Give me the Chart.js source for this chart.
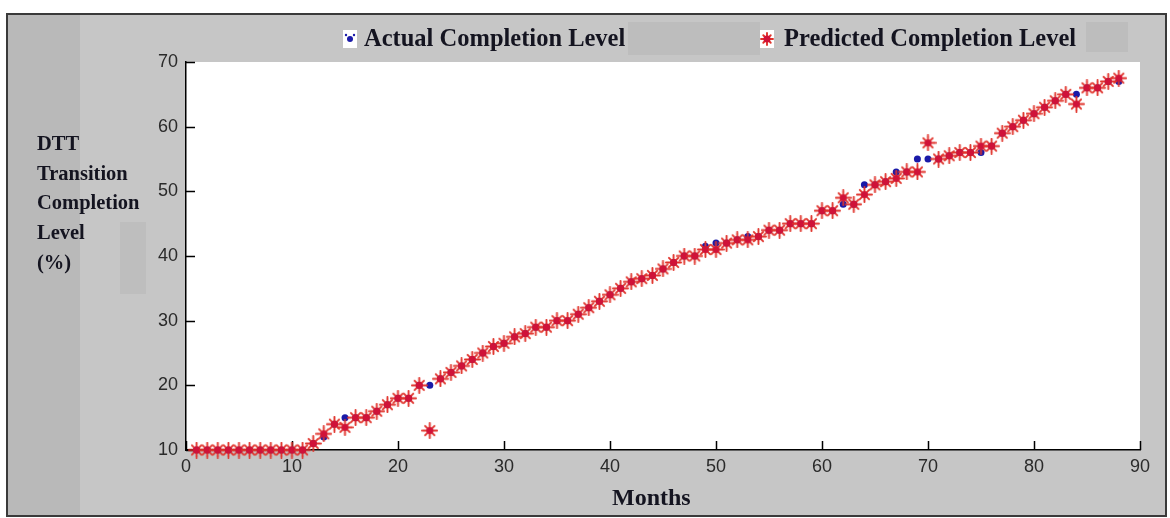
<!DOCTYPE html>
<html>
<head>
<meta charset="utf-8">
<script src="https://cdn.jsdelivr.net/npm/chart.js@4.4.1/dist/chart.umd.min.js"></script>
<style>
  html, body { margin: 0; padding: 0; background: #ffffff; }
  #wrap { position: relative; width: 1170px; height: 518px; overflow: hidden; }
  #frame { position: absolute; left: 6px; top: 13px; width: 1157px; height: 500px;
           background: #c6c6c6; border: 2px solid #3a3a3a; }
  #strip { position: absolute; left: 8px; top: 15px; width: 72px; height: 500px; background: #b9b9b9; }
  .patch { position: absolute; background: #bdbdbd; }
  canvas#c { position: absolute; left: 0; top: 0; }
  .serif { font-family: "Liberation Serif", "DejaVu Serif", serif; font-weight: bold; color: #141420; }
  #ytitle { position: absolute; left: 37px; top: 129px; font-size: 20.5px; line-height: 29.7px; }
  #xtitle { position: absolute; left: 612px; top: 484px; font-size: 24px; }
  .leg { position: absolute; top: 24px; font-size: 24.5px; white-space: nowrap; }
  .legmark { position: absolute; top: 30px; width: 14px; height: 18px; background: #ffffff; }
</style>
</head>
<body>
<div id="wrap">
  <div id="frame"></div>
  <div id="strip"></div>
  <div class="patch" style="left:628px;top:22px;width:132px;height:33px;"></div>
  <div class="patch" style="left:1086px;top:22px;width:42px;height:30px;"></div>
  <div class="patch" style="left:120px;top:222px;width:26px;height:72px;background:#bebebe;"></div>
  <canvas id="c" width="1170" height="518"></canvas>
  <div id="ytitle" class="serif">DTT<br>Transition<br>Completion<br>Level<br>(%)</div>
  <div id="xtitle" class="serif">Months</div>
  <canvas class="legmark" id="lm1" width="14" height="18" style="left:343px;"></canvas>
  <div class="leg serif" style="left:364px;">Actual Completion Level</div>
  <canvas class="legmark" id="lm2" width="14" height="18" style="left:760px;"></canvas>
  <div class="leg serif" style="left:784px;">Predicted Completion Level</div>
</div>
<script>
// ---- data ----
const months = [1,2,3,4,5,6,7,8,9,10,11,12,13,14,15,16,17,18,19,20,21,22,23,24,25,26,27,28,29,30,
  31,32,33,34,35,36,37,38,39,40,41,42,43,44,45,46,47,48,49,50,51,52,53,54,55,56,57,58,59,60,
  61,62,63,64,65,66,67,68,69,70,71,72,73,74,75,76,77,78,79,80,81,82,83,84,85,86,87,88];
const actual = [10,10,10,10,10,10,10,10,10,10,10,11,12,14,15,15,15,16,17,18,18,20,20,21,22,23,24,25,26,26.5,
  27.5,28,29,29,30,30,31,32,33,34,35,36,36.5,37,38,39,40,40,41.5,42,42,42.5,43,43,44,44,45,45,45,47,
  47,48,48,51,51,51.5,53,53,55,55,55,55.5,56,56,56,57,59,60,61,62,63,64,65,65,66,66,67,67];
const predicted = [10,10,10,10,10,10,10,10,10,10,10,11,12.5,14,13.5,15,15,16,17,18,18,20,13,21,22,23,24,25,26,26.5,
  27.5,28,29,29,30,30,31,32,33,34,35,36,36.5,37,38,39,40,40,41,41,42,42.5,42.5,43,44,44,45,45,45,47,
  47,49,48,49.5,51,51.5,52,53,53,57.5,55,55.5,56,56,57,57,59,60,61,62,63,64,65,63.5,66,66,67,67.5];
const xTicks = [0,10,20,30,40,50,60,70,80,90];
const yTicks = [10,20,30,40,50,60,70];
const seriesNames = ["Actual Completion Level", "Predicted Completion Level"];

// ---- markers ----
function starMarker(size) {
  const c = document.createElement('canvas');
  c.width = size; c.height = size;
  const g = c.getContext('2d');
  const m = size / 2, r = size / 2 - 1, d = r * 0.62;
  g.strokeStyle = '#e0322a'; g.lineWidth = 1.9; g.lineCap = 'round';
  g.beginPath();
  g.moveTo(m - r, m); g.lineTo(m + r, m);
  g.moveTo(m, m - r); g.lineTo(m, m + r);
  g.moveTo(m - d, m - d); g.lineTo(m + d, m + d);
  g.moveTo(m - d, m + d); g.lineTo(m + d, m - d);
  g.stroke();
  g.fillStyle = '#d01238';
  g.beginPath(); g.arc(m, m, 3.5, 0, Math.PI * 2); g.fill();
  return c;
}
const star = starMarker(17);
// legend markers
(function () {
  const a = document.getElementById('lm1').getContext('2d');
  a.fillStyle = '#1a1aa8';
  a.beginPath(); a.arc(7, 9, 3, 0, Math.PI * 2); a.fill();
  a.beginPath(); a.arc(3, 5, 1.2, 0, Math.PI * 2); a.fill();
  a.beginPath(); a.arc(11, 5, 1.2, 0, Math.PI * 2); a.fill();
  const b = document.getElementById('lm2').getContext('2d');
  b.drawImage(starMarker(14), 0, 2);
})();

const pts = (ys) => months.map((m, i) => ({ x: m, y: ys[i] }));

const innerTicks = {
  id: 'innerTicks',
  beforeDatasetsDraw(chart) {
    const { ctx, chartArea, scales } = chart;
    ctx.save();
    ctx.strokeStyle = '#000'; ctx.lineWidth = 1.5;
    ctx.beginPath();
    scales.x.ticks.forEach(t => {
      const px = Math.round(scales.x.getPixelForValue(t.value)) + 0.5;
      ctx.moveTo(px, chartArea.bottom); ctx.lineTo(px, chartArea.bottom - 9);
    });
    scales.y.ticks.forEach(t => {
      const py = Math.round(scales.y.getPixelForValue(t.value)) + 0.5;
      ctx.moveTo(chartArea.left, py); ctx.lineTo(chartArea.left + 9, py);
    });
    ctx.stroke();
    ctx.restore();
  }
};
const whiteArea = {
  id: 'whiteArea',
  beforeDraw(chart) {
    const { ctx, chartArea } = chart;
    ctx.save();
    ctx.fillStyle = '#ffffff';
    ctx.fillRect(chartArea.left, chartArea.top, chartArea.right - chartArea.left, chartArea.bottom - chartArea.top);
    ctx.restore();
  }
};

new Chart(document.getElementById('c'), {
  type: 'scatter',
  data: {
    datasets: [
      { label: seriesNames[1], data: pts(predicted), pointStyle: star, pointRadius: 8, clip: false, order: 1 },
      { label: seriesNames[0], data: pts(actual), pointStyle: 'circle', pointRadius: 3.5,
        backgroundColor: '#1a1aa8', borderWidth: 0, clip: false, order: 2 }
    ]
  },
  options: {
    responsive: false,
    animation: false,
    devicePixelRatio: 1,
    layout: { padding: { top: 62, right: 30, bottom: 0, left: 0 } },
    plugins: { legend: { display: false }, tooltip: { enabled: false } },
    scales: {
      x: {
        type: 'linear', min: 0, max: 90,
        afterBuildTicks: s => { s.ticks = xTicks.map(v => ({ value: v })); },
        afterFit: s => { s.height = 68; },
        grid: { display: false, drawTicks: false },
        border: { display: true, color: '#000', width: 1.5 },
        ticks: { padding: 6, color: '#2a2a2a', font: { family: 'Liberation Sans', size: 18 }, maxRotation: 0 }
      },
      y: {
        type: 'linear', min: 10, max: 70,
        afterBuildTicks: s => { s.ticks = yTicks.map(v => ({ value: v })); },
        afterFit: s => { s.width = 186; },
        grid: { display: false, drawTicks: false },
        border: { display: true, color: '#000', width: 1.5 },
        ticks: { padding: 8, color: '#2a2a2a', font: { family: 'Liberation Sans', size: 18 } }
      }
    }
  },
  plugins: [whiteArea, innerTicks]
});
</script>
</body>
</html>
